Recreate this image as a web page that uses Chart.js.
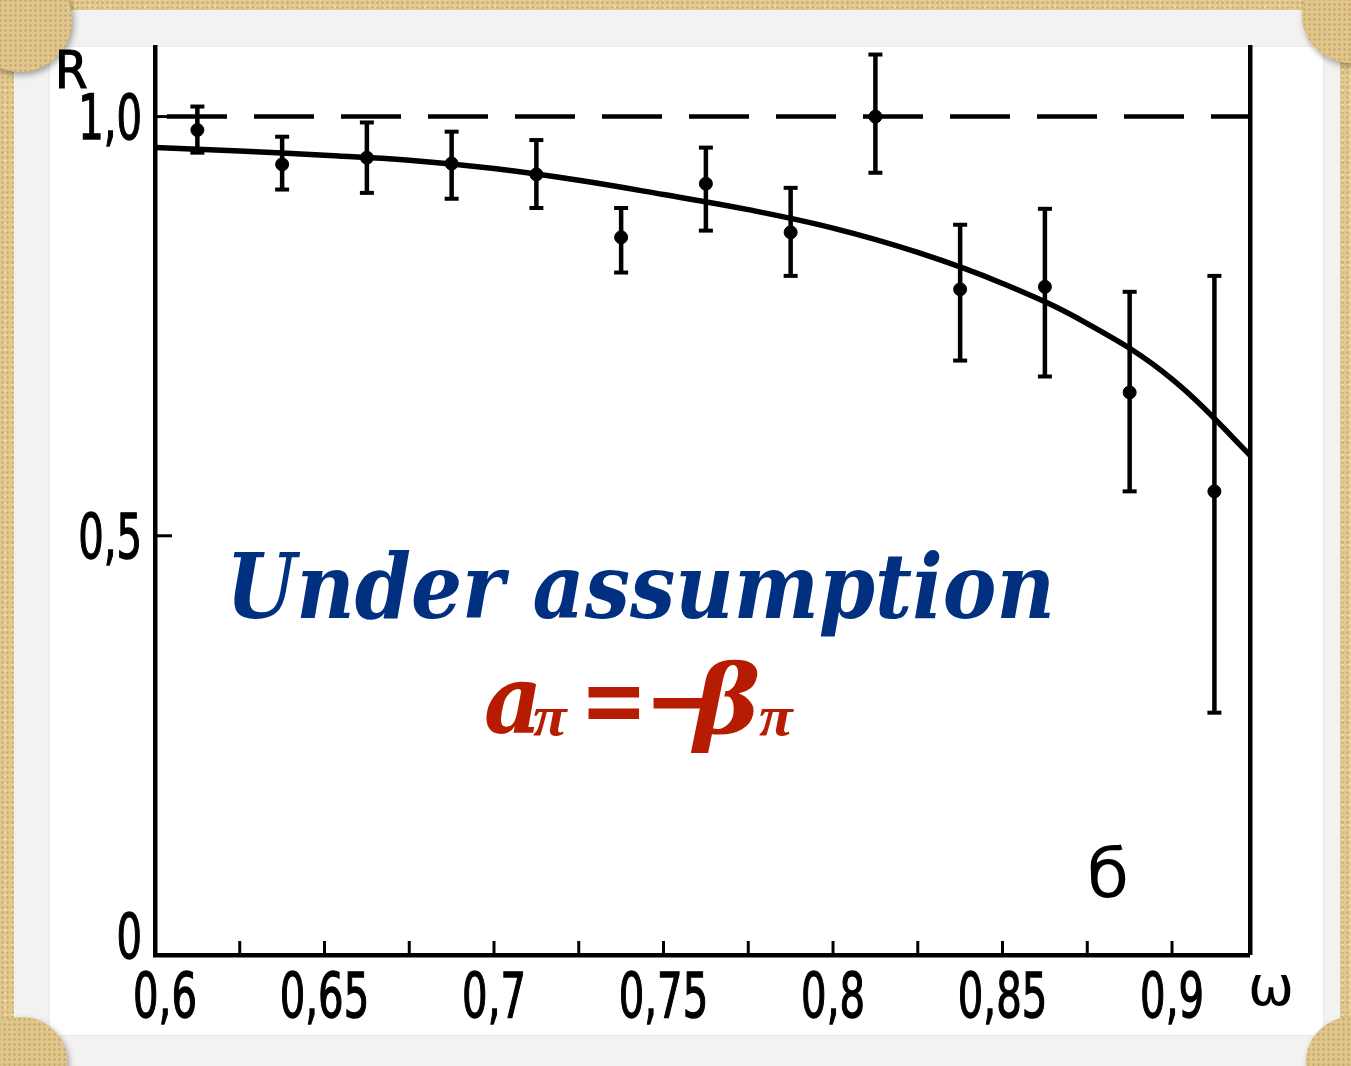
<!DOCTYPE html>
<html>
<head>
<meta charset="utf-8">
<script src="https://cdn.jsdelivr.net/npm/chart.js@4.4.0/dist/chart.umd.min.js"></script>
<style>
html,body{margin:0;padding:0;}
body{width:1351px;height:1066px;position:relative;overflow:hidden;background-color:#e3c990;
 background-image:radial-gradient(rgba(150,110,50,0.28) 1px, transparent 1.6px),radial-gradient(rgba(255,244,210,0.4) 1px, transparent 1.6px);
 background-size:5px 5px,7px 7px;background-position:0 0,2px 3px;}
#frame{position:absolute;left:14px;top:10px;width:1326px;height:1060px;background:#f2f2f0;}
#panel{position:absolute;left:50px;top:47px;width:1273px;height:988px;background:#fff;box-shadow:0 0 1px rgba(120,100,70,0.35);}
.corner{position:absolute;border-radius:50%;background-color:#e2c78d;
 background-image:radial-gradient(rgba(150,110,50,0.3) 1px, transparent 1.6px);background-size:5px 5px;
 box-shadow:2px 3px 6px rgba(0,0,0,0.35);}
#wrap{position:absolute;left:0;top:0;width:1351px;height:1066px;}
</style>
</head>
<body>
<div id="frame"></div>
<div id="panel"></div>
<div class="corner" style="left:-32px;top:-32px;width:104px;height:104px;"></div>
<div class="corner" style="left:1302px;top:-33px;width:96px;height:96px;"></div>
<div class="corner" style="left:-23px;top:1017px;width:90px;height:90px;"></div>
<div class="corner" style="left:1306px;top:1017px;width:90px;height:90px;"></div>
<div id="wrap"><canvas id="c" width="1351" height="1066"></canvas></div>
<script>
// ---- axis ranges ----
const xMin = 0.6, xMax = 0.923;
const yMin = 0, yMax = 1.083;

// ---- tick labels ----
const xTickValues = [0.6, 0.65, 0.7, 0.75, 0.8, 0.85, 0.9];
const xTickLabels = ['0,6', '0,65', '0,7', '0,75', '0,8', '0,85', '0,9'];
const xMinorTicks = [0.625, 0.675, 0.725, 0.775, 0.825, 0.875];
const yTickValues = [0, 0.5, 1.0];
const yTickLabels = ['0', '0,5', '1,0'];

// ---- measured points with error bars ----
const omega = [0.6125, 0.6375, 0.6625, 0.6875, 0.7125, 0.7375, 0.7625, 0.7875, 0.8125, 0.8375, 0.8625, 0.8875, 0.9125];
const R     = [0.984, 0.943, 0.951, 0.944, 0.931, 0.856, 0.920, 0.862, 1.000, 0.794, 0.797, 0.671, 0.553];
const Rhi   = [1.012, 0.976, 0.993, 0.982, 0.972, 0.891, 0.963, 0.915, 1.074, 0.871, 0.890, 0.791, 0.810];
const Rlo   = [0.957, 0.913, 0.909, 0.902, 0.891, 0.814, 0.864, 0.810, 0.933, 0.709, 0.690, 0.553, 0.289];

// ---- theoretical curve ----
const curveW = [0.6, 0.625, 0.65, 0.675, 0.7, 0.725, 0.75, 0.775, 0.8, 0.825, 0.85, 0.875, 0.9, 0.925];
const curveR = [0.963, 0.959, 0.954, 0.948, 0.938, 0.924, 0.907, 0.889, 0.867, 0.838, 0.801, 0.753, 0.687, 0.588];

// ---- reference line R = 1 ----
const refW = [0.6, 0.923];
const refR = [1.0, 1.0];

// ---- texts ----
const yAxisName = 'R';
const xAxisName = 'ω';
const panelLabel = 'б';
const noteLine1 = 'Under assumption';

const xAllTicks = xTickValues.concat(xMinorTicks).sort((a, b) => a - b);
const labelFont = "'DejaVu Sans Condensed', 'DejaVu Sans', sans-serif";

const errData = [];
omega.forEach((w, i) => { errData.push({x: w, y: Rlo[i]}, {x: w, y: Rhi[i]}, {x: w, y: null}); });

function squeezed(ctx, text, x, y, sx, align, stroke) {
  const w = ctx.measureText(text).width * sx;
  let x0 = x;
  if (align === 'center') x0 = x - w / 2;
  else if (align === 'right') x0 = x - w;
  ctx.save();
  ctx.translate(x0, y);
  ctx.scale(sx, 1);
  ctx.textAlign = 'left';
  ctx.fillText(text, 0, 0);
  if (stroke) { ctx.lineWidth = stroke; ctx.strokeText(text, 0, 0); }
  ctx.restore();
}

const decor = {
  id: 'decor',
  afterDraw(chart) {
    const ctx = chart.ctx, xs = chart.scales.x, ys = chart.scales.y;
    const a = chart.chartArea;
    ctx.save();
    ctx.strokeStyle = '#000';
    ctx.lineWidth = 3;
    xAllTicks.forEach(v => {
      if (v <= xMin) return;
      const px = xs.getPixelForValue(v);
      ctx.beginPath(); ctx.moveTo(px, a.bottom); ctx.lineTo(px, a.bottom - 14); ctx.stroke();
    });
    yTickValues.forEach(v => {
      if (v <= yMin) return;
      const py = ys.getPixelForValue(v);
      ctx.beginPath(); ctx.moveTo(a.left, py); ctx.lineTo(a.left + 17, py); ctx.stroke();
    });

    // tick labels (condensed, placed through the scales)
    ctx.fillStyle = '#000';
    ctx.strokeStyle = '#000';
    ctx.font = "62px " + labelFont;
    ctx.textBaseline = 'alphabetic';
    xTickValues.forEach((v, i) => {
      const px = xs.getPixelForValue(v) + (i === 0 ? 10 : 0);
      squeezed(ctx, xTickLabels[i], px, a.bottom + 62, 0.72, 'center', 1.3);
    });
    yTickValues.forEach((v, i) => {
      const py = ys.getPixelForValue(v);
      const base = v <= yMin ? py + 3 : py + 22;
      squeezed(ctx, yTickLabels[i], a.left - 13, base, 0.72, 'right', 1.3);
    });

    // axis names
    ctx.font = "52px " + labelFont;
    squeezed(ctx, yAxisName, 55, 88, 1, 'left', 1.2);
    ctx.font = "55px 'DejaVu Sans', sans-serif";
    ctx.fillText(xAxisName, 1248, 1005);
    ctx.font = "68px 'DejaVu Sans', sans-serif";
    ctx.fillText(panelLabel, 1087, 897);

    // note line 1
    ctx.fillStyle = '#00307f';
    ctx.font = "bold italic 89px 'DejaVu Serif', serif";
    const w = ctx.measureText(noteLine1).width;
    ctx.save();
    ctx.translate(226, 618);
    ctx.scale(829 / w, 1);
    ctx.fillText(noteLine1, 0, 0);
    ctx.restore();

    // note line 2: a_pi = -beta_pi
    ctx.fillStyle = '#b51c02';
    const parts = [
      {t: 'a', x: 484, y: 733, f: "bold italic 95px 'DejaVu Serif', serif", sx: 0.95},
      {t: 'π', x: 533, y: 735, f: "bold italic 56px 'Liberation Serif', serif", sx: 1.1},
      {t: '=', x: 580, y: 733, f: "bold 95px 'DejaVu Serif', serif", sx: 0.85},
      {t: '−', x: 645, y: 733, f: "bold 95px 'DejaVu Serif', serif", sx: 0.85},
      {t: 'β', x: 694, y: 733, f: "bold italic 95px 'DejaVu Serif', serif", sx: 1.05},
      {t: 'π', x: 759, y: 735, f: "bold italic 56px 'Liberation Serif', serif", sx: 1.1}
    ];
    parts.forEach(p => {
      ctx.font = p.f;
      ctx.save();
      ctx.translate(p.x, p.y);
      ctx.scale(p.sx, 1);
      ctx.fillText(p.t, 0, 0);
      ctx.restore();
    });
    ctx.restore();
  }
};

new Chart(document.getElementById('c'), {
  type: 'scatter',
  data: {
    datasets: [
      {
        label: 'curve',
        data: curveW.map((w, i) => ({x: w, y: curveR[i]})),
        showLine: true, borderColor: '#000', borderWidth: 5.5, pointRadius: 0,
        tension: 0.4, fill: false
      },
      {
        label: 'R=1',
        data: refW.map((w, i) => ({x: w, y: refR[i]})),
        showLine: true, borderColor: '#000', borderWidth: 4.5, pointRadius: 0,
        borderDash: [60, 27], borderDashOffset: 75, fill: false
      },
      {
        label: 'errors',
        data: errData,
        showLine: true, spanGaps: false, borderColor: '#000', borderWidth: 4.5,
        pointStyle: 'line', pointRadius: 7, pointBorderWidth: 4, pointBorderColor: '#000',
        fill: false
      },
      {
        label: 'data',
        data: omega.map((w, i) => ({x: w, y: R[i]})),
        pointStyle: 'circle', pointRadius: 6.5, backgroundColor: '#000', borderColor: '#000', pointBorderWidth: 1
      }
    ]
  },
  options: {
    responsive: false,
    animation: false,
    devicePixelRatio: 1,
    layout: {padding: {top: 47, left: 0, right: 0, bottom: 0}},
    plugins: {legend: {display: false}, tooltip: {enabled: false}},
    scales: {
      x: {
        type: 'linear', position: 'bottom', min: xMin, max: xMax,
        afterBuildTicks: s => { s.ticks = xAllTicks.map(v => ({value: v})); },
        afterFit: s => { s.height = 111; },
        grid: {display: true, drawOnChartArea: false, drawTicks: false, lineWidth: 0},
        border: {display: true, color: '#000', width: 4.5},
        ticks: {display: false}
      },
      y: {
        type: 'linear', position: 'left', min: yMin, max: yMax,
        afterBuildTicks: s => { s.ticks = yTickValues.map(v => ({value: v})); },
        afterFit: s => { s.width = 155; },
        grid: {display: true, drawOnChartArea: false, drawTicks: false, lineWidth: 0},
        border: {display: true, color: '#000', width: 4.5},
        ticks: {display: false}
      },
      y2: {
        type: 'linear', position: 'right', min: yMin, max: yMax,
        afterFit: s => { s.width = 101; },
        grid: {display: true, drawOnChartArea: false, drawTicks: false, lineWidth: 0},
        border: {display: true, color: '#000', width: 4.5},
        ticks: {display: false}
      }
    }
  },
  plugins: [decor]
});
</script>
</body>
</html>
